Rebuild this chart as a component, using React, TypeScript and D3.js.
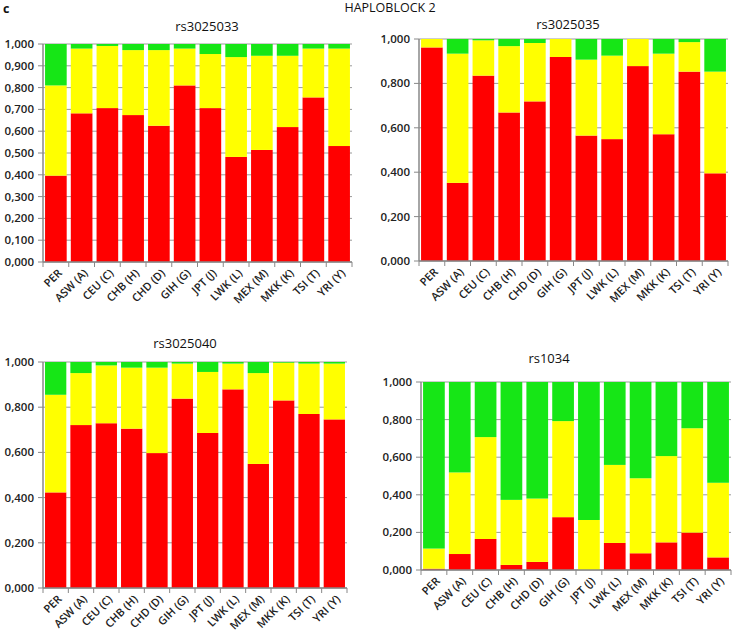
import React from "react";
import * as d3 from "d3";

const categories = ["PER", "ASW (A)", "CEU (C)", "CHB (H)", "CHD (D)", "GIH (G)", "JPT (J)", "LWK (L)", "MEX (M)", "MKK (K)", "TSI (T)", "YRI (Y)"];
const seriesKeys = ["red", "yellow", "green"];
const seriesColors = ["#ff0000", "#ffff00", "#16e616"];

const rs3025033Red = [0.396, 0.682, 0.706, 0.674, 0.625, 0.810, 0.706, 0.482, 0.514, 0.619, 0.755, 0.532];
const rs3025033Yellow = [0.414, 0.297, 0.285, 0.298, 0.347, 0.169, 0.248, 0.458, 0.432, 0.327, 0.224, 0.447];
const rs3025033Green = [0.190, 0.021, 0.009, 0.028, 0.028, 0.021, 0.046, 0.060, 0.054, 0.054, 0.021, 0.021];

const rs3025035Red = [0.962, 0.352, 0.835, 0.669, 0.719, 0.919, 0.565, 0.549, 0.878, 0.571, 0.853, 0.395];
const rs3025035Yellow = [0.038, 0.582, 0.159, 0.299, 0.263, 0.081, 0.342, 0.376, 0.122, 0.363, 0.133, 0.458];
const rs3025035Green = [0.000, 0.066, 0.006, 0.032, 0.018, 0.000, 0.093, 0.075, 0.000, 0.066, 0.014, 0.147];

const rs3025040Red = [0.423, 0.721, 0.729, 0.705, 0.597, 0.838, 0.686, 0.879, 0.549, 0.830, 0.770, 0.746];
const rs3025040Yellow = [0.432, 0.230, 0.256, 0.270, 0.378, 0.155, 0.270, 0.114, 0.402, 0.167, 0.223, 0.247];
const rs3025040Green = [0.145, 0.049, 0.015, 0.025, 0.025, 0.007, 0.044, 0.007, 0.049, 0.003, 0.007, 0.007];

const rs1034Red = [0.007, 0.085, 0.165, 0.027, 0.043, 0.281, 0.000, 0.144, 0.089, 0.147, 0.199, 0.067];
const rs1034Yellow = [0.107, 0.434, 0.542, 0.346, 0.337, 0.511, 0.266, 0.415, 0.399, 0.459, 0.555, 0.397];
const rs1034Green = [0.886, 0.481, 0.293, 0.627, 0.620, 0.208, 0.734, 0.441, 0.512, 0.394, 0.246, 0.536];

const ticksFine = [0, 0.1, 0.2, 0.3, 0.4, 0.5, 0.6, 0.7, 0.8, 0.9, 1.0];
const ticksCoarse = [0, 0.2, 0.4, 0.6, 0.8, 1.0];

const mainTitle = "HAPLOBLOCK 2";
const panelLetter = "c";

type PanelDef = {
  title: string;
  red: number[];
  yellow: number[];
  green: number[];
  ticks: number[];
  x0: number; x1: number; yTop: number; yBot: number;
  titleX: number; titleY: number;
};

const panels: PanelDef[] = [
  { title: "rs3025033", red: rs3025033Red, yellow: rs3025033Yellow, green: rs3025033Green, ticks: ticksFine,
    x0: 43, x1: 352, yTop: 44, yBot: 262, titleX: 207, titleY: 31 },
  { title: "rs3025035", red: rs3025035Red, yellow: rs3025035Yellow, green: rs3025035Green, ticks: ticksCoarse,
    x0: 419, x1: 728, yTop: 39, yBot: 261, titleX: 568, titleY: 29 },
  { title: "rs3025040", red: rs3025040Red, yellow: rs3025040Yellow, green: rs3025040Green, ticks: ticksCoarse,
    x0: 43, x1: 347, yTop: 362, yBot: 588, titleX: 185, titleY: 348 },
  { title: "rs1034", red: rs1034Red, yellow: rs1034Yellow, green: rs1034Green, ticks: ticksCoarse,
    x0: 421, x1: 731, yTop: 382, yBot: 570, titleX: 549, titleY: 363 },
];

const FONT = "'Open Sans', 'Liberation Sans', sans-serif";
const fmt = (v: number) => d3.format(".3f")(v).replace(".", ",");

function Panel({ p }: { p: PanelDef }) {
  const x = d3.scaleBand<string>().domain(categories).range([p.x0, p.x1]).paddingInner(0.16).paddingOuter(0.08);
  const y = d3.scaleLinear().domain([0, 1]).range([p.yBot, p.yTop]);
  const rows = categories.map((c, i) => ({ cat: c, red: p.red[i], yellow: p.yellow[i], green: p.green[i] }));
  const stack = d3.stack<any>().keys(seriesKeys)(rows);
  const boundaries = d3.range(categories.length + 1).map((i) => p.x0 + i * ((p.x1 - p.x0) / categories.length));
  return (
    <g>
      <text x={p.titleX} y={p.titleY} textAnchor="middle" fontFamily={FONT} fontSize={13} fill="#111">{p.title}</text>
      {p.ticks.map((t) => (
        <g key={t}>
          <line x1={p.x0} x2={p.x1} y1={y(t)} y2={y(t)} stroke="#9a9a9a" strokeWidth={1} />
          <line x1={p.x0 - 5} x2={p.x0} y1={y(t)} y2={y(t)} stroke="#888" strokeWidth={1} />
          <text x={p.x0 - 9} y={y(t)} dy="0.35em" textAnchor="end" fontFamily={FONT} fontSize={11.5} fontWeight={600} fill="#222">{fmt(t)}</text>
        </g>
      ))}
      {stack.map((s, si) => (
        <g key={si} fill={seriesColors[si]}>
          {s.map((d: any, i: number) => (
            <rect key={i} x={x(categories[i])} width={x.bandwidth()} y={y(d[1])} height={Math.max(0, y(d[0]) - y(d[1]))} />
          ))}
        </g>
      ))}
      <line x1={p.x0} x2={p.x0} y1={p.yTop} y2={p.yBot} stroke="#888" strokeWidth={1.5} />
      <line x1={p.x0} x2={p.x1} y1={p.yBot} y2={p.yBot} stroke="#888" strokeWidth={1.5} />
      {boundaries.map((b, i) => (
        <line key={i} x1={b} x2={b} y1={p.yBot} y2={p.yBot + 5} stroke="#888" strokeWidth={1} />
      ))}
      {categories.map((c) => {
        const cx = (x(c) as number) + x.bandwidth() / 2 + 4;
        const cy = p.yBot + 9;
        return (
          <text key={c} transform={`translate(${cx},${cy}) rotate(-45)`} textAnchor="end" dy="0.35em"
            fontFamily={FONT} fontSize={11} fontWeight={600} fill="#222">{c}</text>
        );
      })}
    </g>
  );
}

export default function App() {
  return (
    <svg width={732} height={641} style={{ position: "absolute", left: 0, top: 0, background: "#fff" }}>
      <rect width={732} height={641} fill="#fff" />
      <text x={3} y={13} fontFamily={FONT} fontSize={12.5} fontWeight={700} fill="#111">{panelLetter}</text>
      <text x={390} y={12} textAnchor="middle" fontFamily={FONT} fontSize={12.5} fill="#111">{mainTitle}</text>
      {panels.map((p) => <Panel key={p.title} p={p} />)}
    </svg>
  );
}
